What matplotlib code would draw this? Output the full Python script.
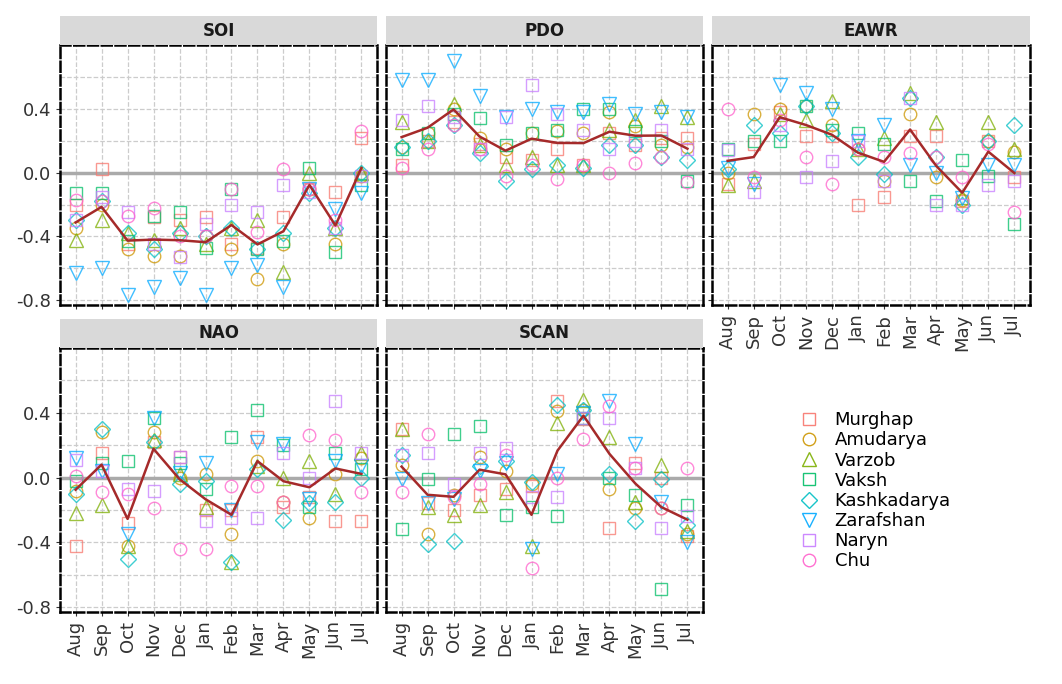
import numpy as np
import matplotlib.pyplot as plt
from matplotlib.patches import Rectangle

# ── Data ──────────────────────────────────────────────────────────────────────

MONTHS = ["Aug", "Sep", "Oct", "Nov", "Dec", "Jan", "Feb", "Mar", "Apr", "May", "Jun", "Jul"]
BASINS = ["Murghap", "Amudarya", "Varzob", "Vaksh", "Kashkadarya", "Zarafshan", "Naryn", "Chu"]
INDICES = ["SOI", "PDO", "EAWR", "NAO", "SCAN"]

soi = [
    [-0.20, 0.02, -0.45, -0.28, -0.30, -0.28, -0.45, -0.47, -0.28, -0.10, -0.12, 0.22],
    [-0.35, -0.20, -0.48, -0.52, -0.52, -0.40, -0.48, -0.67, -0.45, -0.10, -0.45, -0.02],
    [-0.42, -0.30, -0.38, -0.42, -0.35, -0.45, -0.35, -0.30, -0.62, 0.00, -0.35, 0.00],
    [-0.13, -0.13, -0.43, -0.27, -0.25, -0.47, -0.10, -0.48, -0.43, 0.03, -0.50, -0.08],
    [-0.30, -0.18, -0.38, -0.48, -0.38, -0.40, -0.35, -0.48, -0.38, -0.13, -0.35, 0.00],
    [-0.63, -0.60, -0.77, -0.72, -0.66, -0.77, -0.60, -0.58, -0.72, -0.10, -0.23, -0.13],
    [-0.30, -0.15, -0.25, -0.45, -0.53, -0.32, -0.20, -0.25, -0.08, -0.12, -0.35, -0.02],
    [-0.17, -0.18, -0.27, -0.22, -0.40, -0.40, -0.10, -0.37, 0.02, -0.10, -0.30, 0.26],
]
pdo = [
    [0.05, 0.20, 0.32, 0.18, 0.10, 0.08, 0.15, 0.05, 0.25, 0.17, 0.22, 0.22],
    [0.16, 0.25, 0.40, 0.22, 0.15, 0.25, 0.26, 0.25, 0.38, 0.29, 0.17, 0.16],
    [0.32, 0.20, 0.43, 0.17, 0.05, 0.10, 0.05, 0.05, 0.27, 0.33, 0.42, 0.35],
    [0.15, 0.25, 0.37, 0.34, 0.17, 0.25, 0.27, 0.40, 0.40, 0.26, 0.20, -0.05],
    [0.16, 0.20, 0.30, 0.12, -0.05, 0.02, 0.05, 0.03, 0.17, 0.17, 0.10, 0.08],
    [0.58, 0.58, 0.70, 0.48, 0.35, 0.40, 0.38, 0.38, 0.43, 0.37, 0.38, 0.35],
    [0.33, 0.42, 0.35, 0.15, 0.35, 0.55, 0.37, 0.27, 0.15, 0.20, 0.27, 0.15],
    [0.03, 0.15, 0.30, 0.15, -0.02, 0.05, -0.04, 0.05, 0.00, 0.06, 0.10, -0.06],
]
eawr = [
    [-0.07, 0.18, 0.38, 0.23, 0.23, -0.20, -0.15, 0.23, 0.23, -0.18, 0.20, -0.03],
    [0.00, 0.37, 0.40, 0.42, 0.30, 0.15, -0.05, 0.37, -0.03, -0.17, 0.20, 0.13],
    [-0.08, -0.05, 0.37, 0.33, 0.45, 0.15, 0.22, 0.50, 0.32, -0.15, 0.32, 0.15],
    [0.15, 0.20, 0.20, 0.42, 0.27, 0.25, 0.18, -0.05, -0.18, 0.08, -0.02, -0.32],
    [0.02, 0.30, 0.25, 0.42, 0.25, 0.10, -0.01, 0.47, 0.10, -0.20, 0.20, 0.30],
    [0.03, -0.07, 0.55, 0.50, 0.40, 0.20, 0.30, 0.05, 0.00, -0.16, 0.05, 0.05],
    [0.14, -0.12, 0.30, -0.03, 0.07, 0.20, -0.05, 0.47, -0.20, -0.20, -0.08, -0.05],
    [0.40, -0.03, 0.33, 0.10, -0.07, 0.15, 0.10, 0.12, 0.10, -0.03, 0.18, -0.25],
]
nao = [
    [-0.42, 0.15, -0.28, 0.22, 0.13, -0.20, -0.20, 0.25, -0.18, -0.12, -0.27, -0.27],
    [-0.08, 0.28, -0.42, 0.28, 0.00, 0.02, -0.35, 0.10, -0.15, -0.25, 0.02, 0.12],
    [-0.22, -0.17, -0.42, 0.23, 0.02, -0.18, -0.52, 0.07, 0.00, 0.10, -0.10, 0.15],
    [-0.02, 0.09, 0.10, 0.37, 0.09, -0.07, 0.25, 0.42, 0.20, -0.18, 0.15, 0.05],
    [-0.10, 0.30, -0.50, 0.22, -0.04, -0.02, -0.52, 0.05, -0.26, -0.16, -0.15, 0.00],
    [0.12, 0.04, -0.35, 0.37, 0.03, 0.09, -0.20, 0.22, 0.21, -0.13, 0.10, 0.07],
    [0.11, 0.04, -0.07, -0.08, 0.13, -0.27, -0.25, -0.25, 0.15, 0.00, 0.47, 0.15],
    [0.01, -0.09, -0.10, -0.19, -0.44, -0.44, -0.05, -0.05, -0.15, 0.26, 0.23, -0.09],
]
scan = [
    [0.30, -0.16, -0.20, -0.11, -0.07, -0.05, 0.47, 0.36, -0.31, 0.09, 0.00, -0.36],
    [0.08, -0.35, -0.11, 0.13, 0.04, -0.04, 0.41, 0.42, -0.07, -0.19, -0.19, -0.35],
    [0.30, -0.18, -0.23, -0.17, -0.09, -0.42, 0.34, 0.48, 0.25, -0.15, 0.08, -0.33],
    [-0.32, -0.01, 0.27, 0.32, -0.23, -0.18, -0.24, 0.37, 0.00, -0.11, -0.69, -0.17],
    [0.14, -0.41, -0.39, 0.07, 0.10, -0.03, 0.45, 0.42, 0.02, -0.27, -0.01, -0.29],
    [-0.01, -0.16, -0.13, 0.04, 0.09, -0.44, 0.02, 0.40, 0.47, 0.21, -0.15, -0.40],
    [0.14, 0.15, -0.04, 0.15, 0.18, -0.12, -0.12, 0.37, 0.37, 0.06, -0.31, -0.24],
    [-0.09, 0.27, -0.12, -0.04, 0.14, -0.56, 0.00, 0.24, 0.44, 0.06, -0.19, 0.06],
]
DATA = {"SOI": soi, "PDO": pdo, "EAWR": eawr, "NAO": nao, "SCAN": scan}

# ── Style ─────────────────────────────────────────────────────────────────────

COLORS = ["#F8766D", "#CD9600", "#7CAE00", "#00BE67", "#00BFC4", "#00A9FF", "#C77CFF", "#FF61CC"]
MARKERS = ["s", "o", "^", "s", "D", "v", "s", "o"]
SIZES = [9, 9, 10, 9, 8, 10, 9, 9]

W, H = 1062, 684
# panel boxes in pixels: (left, top, right, bottom)
BOXES = {
    "SOI":  (60, 45, 377, 305),
    "PDO":  (386, 45, 703, 305),
    "EAWR": (712, 45, 1030, 305),
    "NAO":  (60, 348, 377, 612),
    "SCAN": (386, 348, 703, 612),
}
STRIP = 29

fig = plt.figure(figsize=(W / 100, H / 100), dpi=100)
x = np.arange(len(MONTHS))

for name in INDICES:
    l, t, r, b = BOXES[name]
    ax = fig.add_axes([l / W, 1 - b / H, (r - l) / W, (b - t) / H])
    vals = np.array(DATA[name])

    ax.set_xlim(-0.6, 11.6)
    ax.set_ylim(-0.83, 0.8)
    ax.set_yticks([-0.8, -0.4, 0.0, 0.4])
    ax.set_yticks([-0.6, -0.2, 0.2, 0.6], minor=True)
    ax.set_xticks(x)
    ax.grid(True, which="both", color="#cccccc", linestyle="--", linewidth=0.9)
    ax.set_axisbelow(True)
    ax.axhline(0, color="#aaaaaa", linewidth=2.5, zorder=1)

    for i, basin in enumerate(BASINS):
        ax.plot(x, vals[i], linestyle="none", marker=MARKERS[i], markersize=SIZES[i],
                markerfacecolor="none", markeredgecolor=COLORS[i], markeredgewidth=1.0,
                alpha=0.75, label=basin, zorder=3)
    ax.plot(x, vals.mean(axis=0), color="#A52A2A", linewidth=1.8, zorder=4)

    for side in ax.spines.values():
        side.set_linestyle((0, (4, 1.5)))
        side.set_linewidth(1.8)
        side.set_color("black")

    ax.tick_params(axis="both", which="minor", length=0)
    ax.tick_params(axis="both", which="major", length=3, color="#333333", labelsize=13)
    if name in ("SOI", "NAO"):
        ax.set_yticklabels(["-0.8", "-0.4", "0.0", "0.4"], color="#333333")
    else:
        ax.tick_params(axis="y", labelleft=False)
    if name in ("NAO", "SCAN", "EAWR"):
        ax.set_xticklabels(MONTHS, rotation=90, color="#333333")
    else:
        ax.tick_params(axis="x", labelbottom=False)

    # facet strip
    sax = fig.add_axes([l / W, 1 - t / H, (r - l) / W, STRIP / H])
    sax.add_patch(Rectangle((0, 0), 1, 1, color="#d9d9d9"))
    sax.text(0.5, 0.5, name, ha="center", va="center", fontsize=12, fontweight="bold", color="#1a1a1a")
    sax.set_xlim(0, 1)
    sax.set_ylim(0, 1)
    sax.axis("off")

    if name == "SOI":
        handles, labels = ax.get_legend_handles_labels()

leg = fig.legend(handles, labels, loc="upper left", bbox_to_anchor=(775 / W, 1 - 395 / H),
                 frameon=False, fontsize=13, handletextpad=0.4, labelspacing=0.12)
for h in leg.legend_handles:
    h.set_alpha(0.9)

fig.savefig("out.png", dpi=100)
